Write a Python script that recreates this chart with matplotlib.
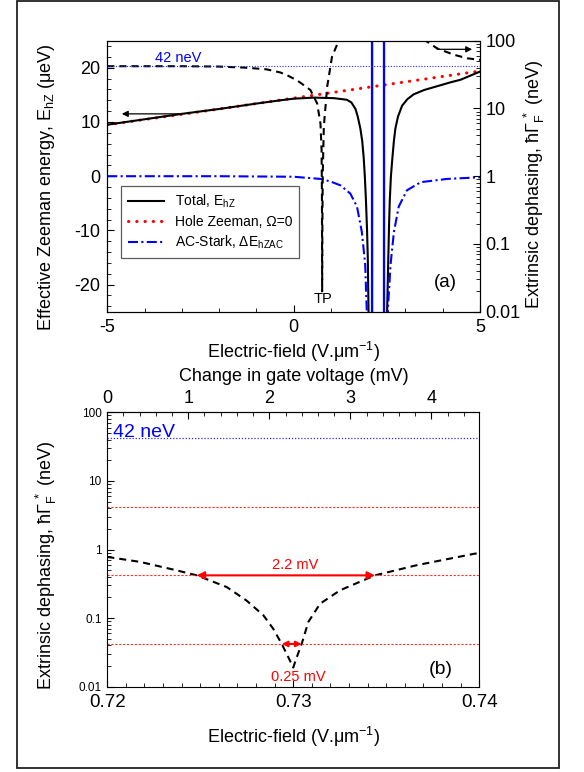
import numpy as np
import matplotlib
matplotlib.use("Agg")
import matplotlib.pyplot as plt
from matplotlib.patches import Rectangle
from matplotlib.ticker import MultipleLocator, LogLocator, NullFormatter, FuncFormatter

plt.rcParams['font.family'] = ['Liberation Sans', 'DejaVu Sans']
plt.rcParams['mathtext.fontset'] = 'custom'
plt.rcParams['mathtext.rm'] = 'Liberation Sans'
plt.rcParams['mathtext.it'] = 'Liberation Sans:italic'
plt.rcParams['mathtext.bf'] = 'Liberation Sans:bold'
plt.rcParams['axes.unicode_minus'] = False

# ---- panel (a) data: electric field (V/um) vs energy (ueV) ----
total_field = [-5, -4, -3, -2, -1, -0.36, 0, 0.54, 1.08, 1.43, 1.55, 1.66, 1.72, 1.79, 1.84,
               1.88, 1.91, 1.94, 1.97, 1.99, 2.02, 2.105, 2.105, 2.425, 2.425, 2.49, 2.51,
               2.54, 2.56, 2.58, 2.61, 2.65, 2.69, 2.73, 2.80, 2.91, 3.05, 3.22, 3.5, 3.85,
               4.2, 4.48, 5.0]
total_energy = [9.5, 10.5, 11.5, 12.4, 13.4, 14.0, 14.3, 14.5, 14.4, 14.1, 13.6, 12.4, 11.0, 8.8,
                6.5, 3.4, 0.0, -4.4, -10.0, -15.1, -30, -1000, 1000, 1000, -1000, -30, -24.4,
                -15.1, -9.0, -4.4, 0.0, 3.4, 6.5, 8.8, 11.0, 13.0, 14.2, 15.1, 15.9, 16.6,
                17.3, 17.8, 19.3]

zeeman_field = [-5, -2.5, 0, 2.5, 5]
zeeman_energy = [9.5, 11.9, 14.4, 16.9, 19.4]

stark_field_l = [-5, -2, 0, 0.72, 1.0, 1.26, 1.52, 1.70, 1.83, 1.92, 1.96, 1.98]
stark_energy_l = [0, 0, -0.1, -0.5, -1.0, -1.7, -3.2, -5.6, -10.3, -16.3, -24.4, -30]
stark_field_r = [2.51, 2.53, 2.60, 2.69, 2.82, 3.04, 3.41, 4.12, 5.0]
stark_energy_r = [-30, -24.4, -16.3, -10.3, -5.6, -2.6, -1.1, -0.5, -0.2]
stark_poles = [2.115, 2.415]

# extrinsic dephasing (neV), right axis of panel (a)
deph_field = [-5, -3, -2, -1.3, -0.73, -0.36, -0.18, 0.09, 0.18, 0.45, 0.63, 0.72, 0.75,
              0.76, 0.765, 0.772, 0.78, 0.81, 0.90, 1.03, 1.21, 1.30, 3.3, 3.54, 3.85,
              4.30, 4.66, 5.0]
deph_val = [42, 42, 41.5, 40, 37.8, 34, 31, 26, 24, 18.7, 11.9, 6.0, 2.4,
            0.45, 0.02, 0.2, 1.0, 5.4, 21, 58, 100, 140, 150, 100, 77,
            62, 55, 52]
level_42 = 42

# ---- panel (b) data ----
field_b = [0.72000, 0.72176, 0.72355, 0.72481, 0.72642, 0.72749, 0.72839, 0.72892, 0.72938,
           0.72973, 0.73000, 0.73012, 0.73045, 0.73081, 0.73144, 0.73251, 0.73439, 0.73663,
           0.73976, 0.74000]
deph_b = [0.78, 0.66, 0.51, 0.42, 0.284, 0.18, 0.11, 0.070, 0.042,
          0.027, 0.019, 0.024, 0.042, 0.088, 0.162, 0.254, 0.42, 0.59,
          0.87, 0.88]
ref_levels = [4.2, 0.42, 0.042]
arrow_wide = [0.72481, 0.73439]    # 2.2 mV
arrow_narrow = [0.72938, 0.73045]  # 0.25 mV
gate_per_field = 229.6             # mV per V/um

fig = plt.figure(figsize=(5.84, 7.72), dpi=100)
fig.patches.append(Rectangle((17 / 584, 1 - 768 / 772), 542 / 584, 767 / 772,
                             transform=fig.transFigure, fill=False, lw=1.3, ec='#222222'))

BLUE = '#0000ff'
RED = '#ff0000'
dash = (0, (3.4, 2.4))
dashdot = (0, (4.8, 1.6, 1.0, 1.6))

# ================= panel (a) =================
ax1 = fig.add_axes([0.1837, 0.5962, 0.6382, 0.3511])
ax1r = ax1.twinx()

ax1.plot(total_field, total_energy, color='k', lw=1.5, label='Total, E$_{\\mathrm{hZ}}$')
ax1.plot(zeeman_field, zeeman_energy, color=RED, lw=2.2, ls=(0, (0.1, 2.6)),
         dash_capstyle='round', label='Hole Zeeman, Ω=0', zorder=1)
ax1.plot(stark_field_l, stark_energy_l, color=BLUE, lw=1.5, ls=dashdot,
         label='AC-Stark, ΔE$_{\\mathrm{hZAC}}$')
ax1.plot(stark_field_r, stark_energy_r, color=BLUE, lw=1.5, ls=dashdot)
for xp in stark_poles:
    ax1.axvline(xp, color=BLUE, lw=1.6)

ax1.set_xlim(-5, 5)
ax1.set_ylim(-25, 25)
ax1.xaxis.set_major_locator(MultipleLocator(5))
ax1.xaxis.set_minor_locator(MultipleLocator(1))
ax1.yaxis.set_major_locator(MultipleLocator(10))
ax1.yaxis.set_minor_locator(MultipleLocator(2))
ax1.tick_params(which='both', direction='in', top=False, right=False, labelsize=13, pad=5)
ax1.tick_params(which='major', length=5)
ax1.tick_params(which='minor', length=3)

ax1.annotate('', xy=(-4.61, 11.5), xytext=(-3.04, 11.5),
             arrowprops=dict(arrowstyle='-|>', color='k', lw=0.9, mutation_scale=9,
                             shrinkA=0, shrinkB=0))
ax1.text(0.8, -22.6, 'TP', ha='center', va='center', fontsize=10.5)
ax1.text(4.08, -19.6, '(a)', ha='center', va='center', fontsize=13.5)

leg = ax1.legend(loc='lower left', bbox_to_anchor=(0.036, 0.197), fontsize=10,
                 frameon=True, fancybox=False, edgecolor='#333333', handlelength=2.6,
                 borderpad=0.5, labelspacing=0.35, borderaxespad=0)
leg.get_frame().set_linewidth(0.9)

ax1r.plot(deph_field, deph_val, color='k', lw=1.5, ls=dash)
ax1r.axhline(level_42, color='#2a2aff', lw=0.8, ls=(0, (1, 1.5)))
ax1r.annotate('', xy=(4.79, 74.6), xytext=(3.85, 74.6),
              arrowprops=dict(arrowstyle='-|>', color='k', lw=0.9, mutation_scale=9,
                              shrinkA=0, shrinkB=0))
ax1r.text(-3.72, 48, '42 neV', color=BLUE, fontsize=10.5, ha='left', va='baseline')
ax1r.set_yscale('log')
ax1r.set_ylim(0.01, 100)
ax1r.yaxis.set_major_formatter(FuncFormatter(lambda v, _: f'{v:g}'))
ax1r.yaxis.set_minor_locator(LogLocator(base=10, subs=np.arange(2, 10)))
ax1r.yaxis.set_minor_formatter(NullFormatter())
ax1r.tick_params(which='both', direction='in', labelsize=13, pad=4)
ax1r.tick_params(which='major', length=5)
ax1r.tick_params(which='minor', length=3)

fig.text(47 / 584, 1 - 187 / 772, 'Effective Zeeman energy, E$_{\\mathrm{hZ}}$ (μeV)',
         rotation=90, ha='center', va='center', fontsize=13)
fig.text(534 / 584, 1 - 184.5 / 772, 'Extrinsic dephasing, ħΓ$_{\\mathrm{F}}^{\\ *}$ (neV)',
         rotation=90, ha='center', va='center', fontsize=13)
fig.text(294 / 584, 1 - 351.7 / 772, 'Electric-field (V.μm$^{\\mathrm{-1}}$)',
         ha='center', va='center', fontsize=13)

# ================= panel (b) =================
ax2 = fig.add_axes([0.1837, 0.1105, 0.637, 0.3554])
ax2.plot(field_b, deph_b, color='k', lw=1.5, ls=dash)
ax2.axhline(level_42, color='#2a2aff', lw=0.9, ls=(0, (1, 1.5)))
for lv in ref_levels:
    ax2.axhline(lv, color='#ff3030', lw=0.8, ls=(0, (2.0, 1.5)))

ax2.annotate('', xy=(arrow_wide[0], ref_levels[1]), xytext=(arrow_wide[1], ref_levels[1]),
             arrowprops=dict(arrowstyle='<|-|>', color=RED, lw=1.5, mutation_scale=11,
                             shrinkA=0, shrinkB=0))
ax2.annotate('', xy=(arrow_narrow[0], ref_levels[2]), xytext=(arrow_narrow[1], ref_levels[2]),
             arrowprops=dict(arrowstyle='<|-|>', color=RED, lw=1.5, mutation_scale=8,
                             shrinkA=0, shrinkB=0))
ax2.text(0.7301, 0.60, '2.2 mV', color=RED, fontsize=10.5, ha='center', va='center')
ax2.text(0.73027, 0.0140, '0.25 mV', color=RED, fontsize=10.5, ha='center', va='center')
ax2.text(0.7203, 43, '42 neV', color=BLUE, fontsize=14, ha='left', va='baseline')
ax2.text(0.73793, 0.0178, '(b)', fontsize=14, ha='center', va='center')

ax2.set_xlim(0.72, 0.74)
ax2.set_yscale('log')
ax2.set_ylim(0.01, 100)
ax2.xaxis.set_major_locator(MultipleLocator(0.01))
ax2.xaxis.set_minor_locator(MultipleLocator(0.001))
ax2.xaxis.set_major_formatter(FuncFormatter(lambda v, _: f'{v:.2f}'))
ax2.yaxis.set_major_formatter(FuncFormatter(lambda v, _: f'{v:g}'))
ax2.yaxis.set_minor_locator(LogLocator(base=10, subs=np.arange(2, 10)))
ax2.yaxis.set_minor_formatter(NullFormatter())
ax2.tick_params(which='both', direction='in', top=False, right=False)
ax2.tick_params(axis='x', labelsize=13.5, pad=5)
ax2.tick_params(axis='y', labelsize=8.5, pad=4)
ax2.tick_params(which='major', length=5)
ax2.tick_params(which='minor', length=3)

sec = ax2.secondary_xaxis('top', functions=(lambda e: (e - 0.72) * gate_per_field,
                                            lambda v: 0.72 + v / gate_per_field))
sec.xaxis.set_major_locator(MultipleLocator(1))
sec.xaxis.set_minor_locator(MultipleLocator(0.2))
sec.tick_params(which='both', direction='in', labelsize=13, pad=4)
sec.tick_params(which='major', length=5)
sec.tick_params(which='minor', length=3)

fig.text(294 / 584, 1 - 377 / 772, 'Change in gate voltage (mV)',
         ha='center', va='center', fontsize=13)
fig.text(46 / 584, 1 - 565 / 772, 'Extrinsic dephasing, ħΓ$_{\\mathrm{F}}^{\\ *}$ (neV)',
         rotation=90, ha='center', va='center', fontsize=13)
fig.text(294 / 584, 1 - 736.7 / 772, 'Electric-field (V.μm$^{\\mathrm{-1}}$)',
         ha='center', va='center', fontsize=13)

fig.savefig('out.png', dpi=100)
